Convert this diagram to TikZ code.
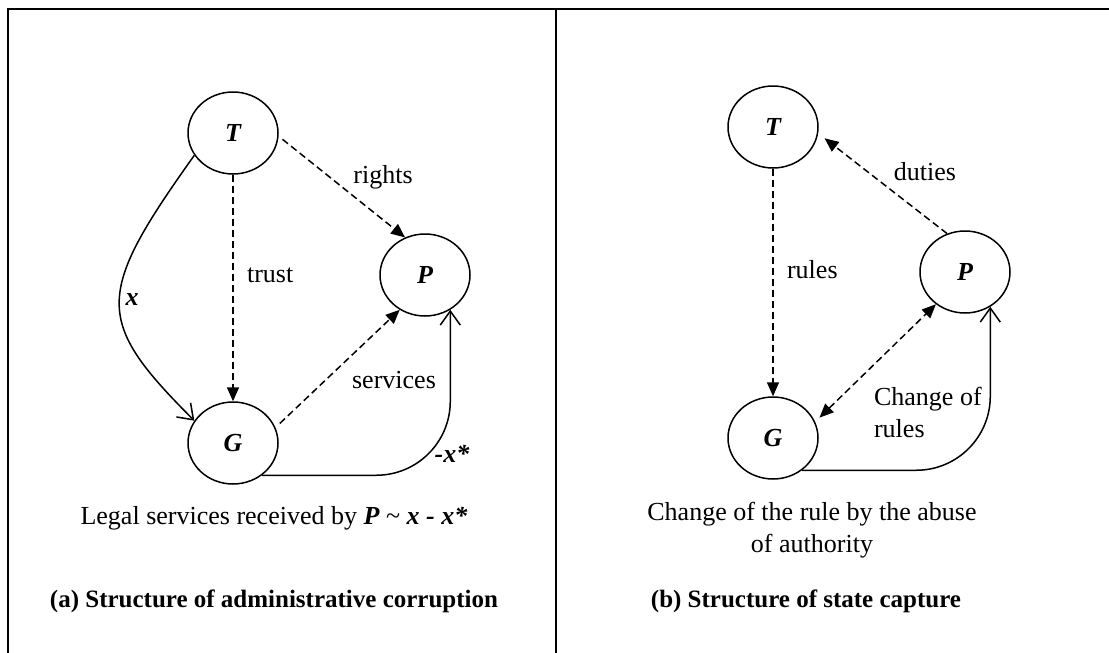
\documentclass[tikz,border=0pt]{standalone}
\usepackage{fontspec}
\setmainfont{Liberation Serif}
\usetikzlibrary{positioning}
\usetikzlibrary{arrows.meta}
\usetikzlibrary{shapes.geometric}

\begin{document}
\begin{tikzpicture}[x=0.5pt, y=-0.5pt, font=\fontsize{13}{16}\selectfont,
    actor/.style={ellipse, draw, line width=0.75pt, minimum width=45pt, minimum height=41pt, inner sep=0pt, font=\fontsize{13}{16}\selectfont\bfseries\itshape},
    dasharrow/.style={draw, line width=0.75pt, dash pattern=on 3.5pt off 2pt, -{Triangle[length=7pt,width=6pt]}},
    flowarrow/.style={draw, line width=0.75pt, -{Straight Barb[length=7pt,width=10pt]}},
    varlabel/.style={font=\fontsize{13}{16}\selectfont\bfseries\itshape},
    caption/.style={font=\fontsize{12.5}{15}\selectfont\bfseries}]
    \useasboundingbox (0,0) rectangle (1109,653);

    % frame
    \draw[line width=1pt] (8,653) -- (8,9) -- (1109,9);
    \draw[line width=1pt] (556,9) -- (556,653);

    % (a) administrative corruption
    \node[actor] (ta) at (233,133) {T};
    \node[actor] (pa) at (425,275) {P};
    \node[actor] (ga) at (233,443) {G};

    \draw[dasharrow, shorten <=2.5pt] (ta.-4) -- (pa.118);
    \draw[dasharrow] (ta.south) -- (ga.north);
    \draw[dasharrow, shorten <=3pt] (ga.20) -- (pa.234);
    \draw[flowarrow] (ta.210) .. controls +(-100,140) and +(-100,-100) .. (ga.150);
    \draw[flowarrow, rounded corners=37pt] (ga.312) -| (pa.306);

    \node (rights) at (383,177) {rights};
    \node[anchor=west] (trust) at (240,275) {trust};
    \node (services) at (394,380) {services};
    \node[varlabel] (xa) at (132,300) {x};
    \node[varlabel] (xstar) at (452,454) {-x*};

    \node (legal) at (274,518) {Legal services received by \textbf{\textit{P}} \textasciitilde{} \textbf{\textit{x - x*}}};
    \node[caption] (capa) at (274,601) {(a) Structure of administrative corruption};

    % (b) state capture
    \node[actor] (tb) at (773,127) {T};
    \node[actor] (pb) at (965,272) {P};
    \node[actor] (gb) at (773,438) {G};

    \draw[dasharrow, shorten >=4pt] (pb.115) -- (tb.-8);
    \draw[dasharrow] (tb.south) -- (gb.north);
    \draw[dasharrow, {Triangle[length=7pt,width=6pt]}-{Triangle[length=7pt,width=6pt]}, shorten <=3pt] (gb.21) -- (pb.228);
    \draw[flowarrow, rounded corners=37pt] (gb.312) -| (pb.306);

    \node (duties) at (925,172) {duties};
    \node[anchor=west] (rules) at (780,270) {rules};
    \node[anchor=west, align=left] (change) at (867,412) {Change of\\rules};

    \node[align=center] (abuse) at (812,530) {Change of the rule by the abuse\\of authority};
    \node[caption] (capb) at (806,601) {(b) Structure of state capture};
\end{tikzpicture}
\end{document}
